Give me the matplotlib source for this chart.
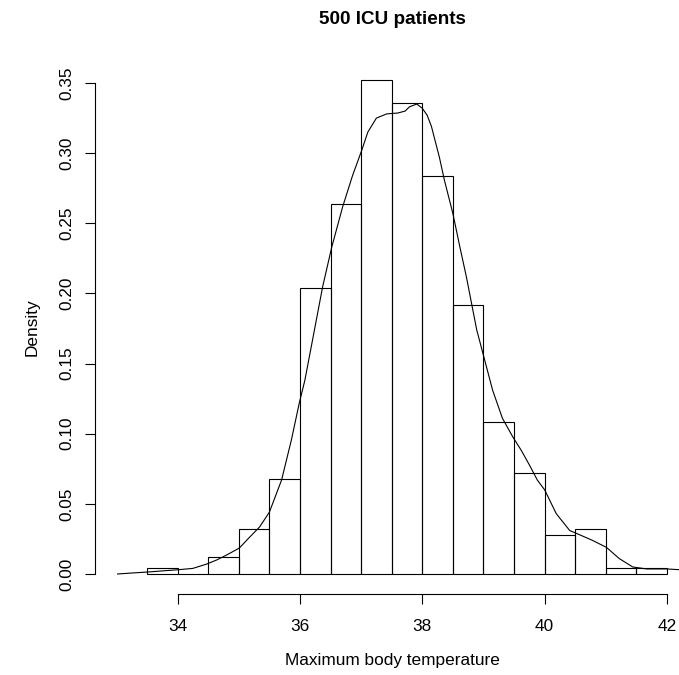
import matplotlib
matplotlib.use("Agg")
import matplotlib.pyplot as plt
import numpy as np

plt.rcParams['font.family'] = ['Liberation Sans', 'DejaVu Sans']

# histogram: left edges of 0.5-wide bins and their densities
bin_left = [33.5, 34.0, 34.5, 35.0, 35.5, 36.0, 36.5, 37.0, 37.5,
            38.0, 38.5, 39.0, 39.5, 40.0, 40.5, 41.0, 41.5]
density = [0.004, 0.0, 0.012, 0.032, 0.068, 0.204, 0.264, 0.352, 0.336,
           0.284, 0.192, 0.108, 0.072, 0.028, 0.032, 0.004, 0.004]
bin_width = 0.5

# kernel density curve
kde_x = [33.02, 33.25, 33.51, 33.75, 34.0, 34.25, 34.47, 34.64, 34.8, 35.01,
         35.15, 35.34, 35.5, 35.7, 35.86, 35.99, 36.08, 36.22, 36.37, 36.52,
         36.7, 36.86, 37.01, 37.11, 37.25, 37.42, 37.6, 37.72, 37.79,
         37.91, 38.0, 38.08, 38.15, 38.28, 38.36, 38.5, 38.62, 38.72, 38.89,
         39.02, 39.15, 39.31, 39.48, 39.62, 39.76, 39.88, 40.0, 40.19, 40.41,
         40.57, 40.78, 41.01, 41.22, 41.44, 41.67, 42.0, 42.3]
kde_y = [0.0, 0.0007, 0.0014, 0.0022, 0.003, 0.004, 0.007, 0.010, 0.0135, 0.0185,
         0.025, 0.0335, 0.044, 0.067, 0.0955, 0.122, 0.138, 0.170, 0.2045, 0.233,
         0.262, 0.284, 0.302, 0.315, 0.325, 0.328, 0.3286, 0.330, 0.333,
         0.335, 0.332, 0.327, 0.319, 0.297, 0.281, 0.257, 0.232, 0.212, 0.174,
         0.1525, 0.131, 0.111, 0.0977, 0.088, 0.077, 0.067, 0.060, 0.043, 0.031,
         0.028, 0.024, 0.019, 0.011, 0.005, 0.0036, 0.0036, 0.0028]

W, H = 679, 675
fig = plt.figure(figsize=(W / 100, H / 100), dpi=100)
ax = fig.add_axes([95 / W, (H - 594) / H, 594 / W, 534 / H])

ax.bar(bin_left, density, width=bin_width, align='edge', fill=False,
       edgecolor='black', linewidth=0.8)
ax.plot(kde_x, kde_y, color='black', linewidth=0.8)

ax.set_xlim(32.65, 42.36)
ax.set_ylim(-0.01426, 0.3664)

ax.set_xticks([34, 36, 38, 40, 42])
ax.set_yticks(np.arange(0, 0.351, 0.05))
ax.set_yticklabels(['%.2f' % v for v in np.arange(0, 0.351, 0.05)],
                   rotation=90, va='center')

for s in ['top', 'right']:
    ax.spines[s].set_visible(False)
ax.spines['left'].set_bounds(0, 0.35)
ax.spines['bottom'].set_bounds(34, 42)
ax.spines['left'].set_linewidth(0.8)
ax.spines['bottom'].set_linewidth(0.8)
ax.tick_params(axis='both', length=7, width=0.8, labelsize=12.4)
ax.tick_params(axis='x', pad=11)
ax.tick_params(axis='y', pad=8)

ax.set_xlabel('Maximum body temperature', fontsize=12.4, labelpad=14)
ax.set_ylabel('Density', fontsize=12.4, labelpad=14)
ax.set_title('500 ICU patients', fontsize=13.6, fontweight='bold', pad=26)

fig.savefig('out.png', dpi=100)
